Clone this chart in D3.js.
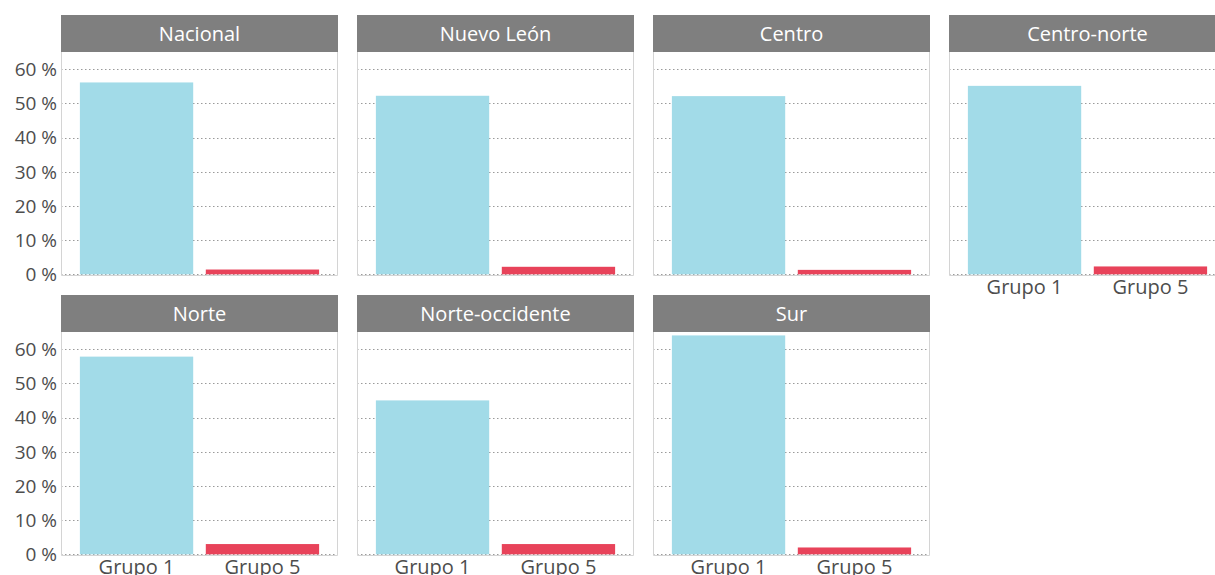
<!DOCTYPE html>
<html>
<head>
<meta charset="utf-8">
<script src="https://cdnjs.cloudflare.com/ajax/libs/d3/7.8.5/d3.min.js"></script>
<style>
  body { margin: 0; background: #fff; }
  svg text { font-family: "Open Sans", "Lato", sans-serif; }
</style>
</head>
<body>
<div id="chart"></div>
<script>
// data
var regions = ["Nacional", "Nuevo León", "Centro", "Centro-norte", "Norte", "Norte-occidente", "Sur"];
var groups = ["Grupo 1", "Grupo 5"];
var grupo1 = [56.1, 52.2, 52.1, 55.1, 57.8, 45.0, 64.0];
var grupo5 = [1.4, 2.2, 1.3, 2.3, 3.0, 3.0, 2.0];
var yTicks = [0, 10, 20, 30, 40, 50, 60];
var colors = ["#a2dbe8", "#e8435a"];

var W = 1215, H = 575;
var panelW = 277, pitch = 296, left0 = 61;
var stripH = 37, plotH = 223;
var rowTop = [15, 295];

var svg = d3.select("#chart").append("svg")
    .attr("width", W)
    .attr("height", H);

// ggplot style: 0.6 unit expansion each side, bars 0.9 of a unit
var unit = panelW / 2.2;
var x = d3.scaleBand()
    .domain(groups)
    .range([0.1 * unit, 2.1 * unit])
    .paddingInner(0.1)
    .paddingOuter(0.05);

var y = d3.scaleLinear()
    .domain([-0.2, 65])
    .range([plotH, 0]);

regions.forEach(function(name, i){
    var col = i % 4, row = Math.floor(i / 4);
    var px = left0 + col * pitch;
    var py = rowTop[row];
    var g = svg.append("g")
        .attr("transform", "translate(" + px + "," + py + ")");

    // strip
    g.append("rect")
        .attr("x", 0).attr("y", 0)
        .attr("width", panelW).attr("height", stripH)
        .attr("fill", "#7f7f7f");
    g.append("text")
        .attr("x", panelW / 2).attr("y", stripH / 2)
        .attr("dy", "0.36em")
        .attr("text-anchor", "middle")
        .attr("fill", "#fff")
        .style("font-size", "20px")
        .text(name);

    var p = g.append("g").attr("transform", "translate(0," + stripH + ")");

    // dotted grid
    p.selectAll(".grid")
        .data(yTicks)
        .enter().append("line")
        .attr("class", "grid")
        .attr("x1", 0).attr("x2", panelW)
        .attr("y1", function(d){ return Math.round(y(d)) + 0.5; })
        .attr("y2", function(d){ return Math.round(y(d)) + 0.5; })
        .attr("stroke", "#9a9a9a")
        .attr("stroke-width", 1)
        .attr("stroke-dasharray", "1.5,2.5");

    var vals = [grupo1[i], grupo5[i]];
    p.selectAll(".bar")
        .data(vals)
        .enter().append("rect")
        .attr("class", "bar")
        .attr("x", function(d, j){ return x(groups[j]); })
        .attr("width", x.bandwidth())
        .attr("y", function(d){ return y(d); })
        .attr("height", function(d){ return y(0) - y(d); })
        .attr("fill", function(d, j){ return colors[j]; });

    // panel border (left, right, bottom)
    p.append("path")
        .attr("d", "M0.5,0V" + (plotH + 0.5) + "H" + (panelW - 0.5) + "V0")
        .attr("fill", "none")
        .attr("stroke", "#d4d4d4")
        .attr("stroke-width", 1);

    // y axis labels on first column
    if (col === 0) {
        p.selectAll(".ytick")
            .data(yTicks)
            .enter().append("text")
            .attr("class", "ytick")
            .attr("x", -4)
            .attr("y", function(d){ return y(d); })
            .attr("dy", "0.36em")
            .attr("text-anchor", "end")
            .attr("fill", "#4d4d4d")
            .style("font-size", "19px")
            .text(function(d){ return d + " %"; });
    }

    // x axis labels on bottom panels
    if (row === 1 || i === 3) {
        p.selectAll(".xtick")
            .data(groups)
            .enter().append("text")
            .attr("class", "xtick")
            .attr("x", function(d){ return x(d) + x.bandwidth() / 2; })
            .attr("y", plotH + 12)
            .attr("dy", "0.36em")
            .attr("text-anchor", "middle")
            .attr("fill", "#4d4d4d")
            .style("font-size", "20px")
            .text(function(d){ return d; });
    }
});
</script>
</body>
</html>
